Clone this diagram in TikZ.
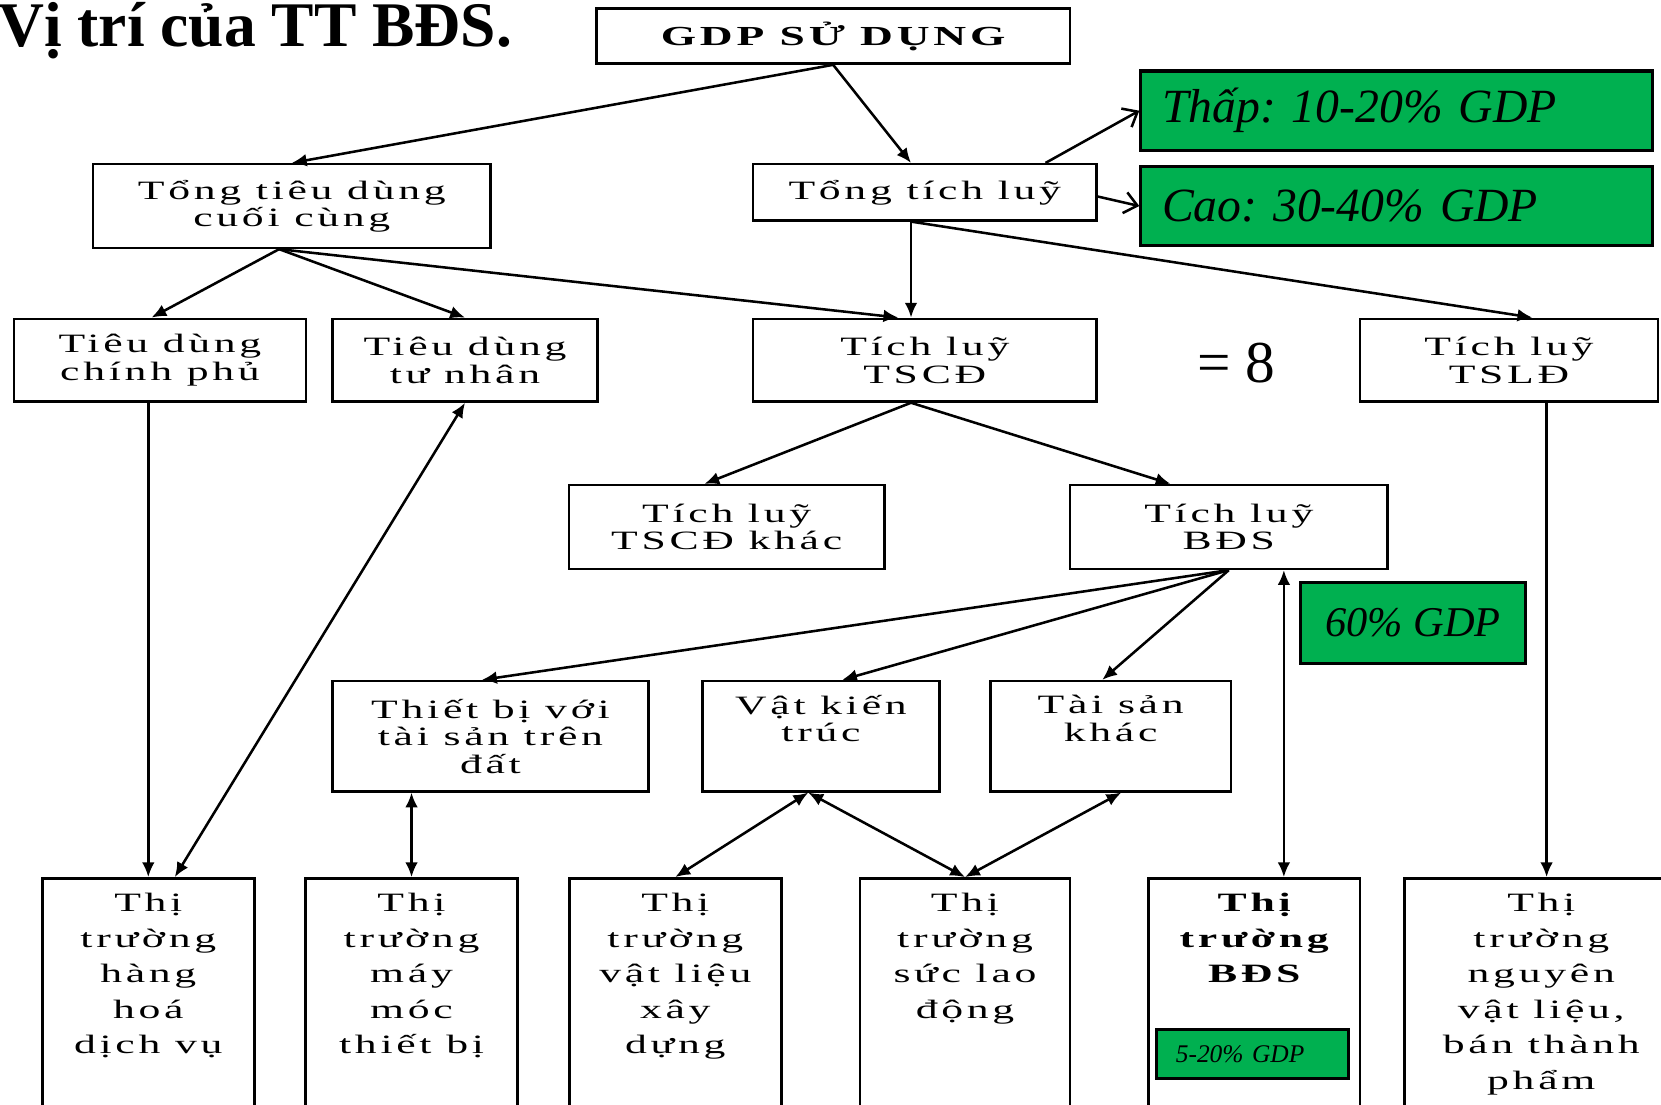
\documentclass[tikz,border=0pt]{standalone}
\usepackage{fontspec}
\setmainfont{Liberation Serif}
\newfontfamily\boxfont[FakeStretch=1.65,LetterSpace=14]{Liberation Serif}
\usetikzlibrary{arrows.meta}
\definecolor{gdpgreen}{RGB}{0,176,80}
\newcommand{\mkbox}[2][96pt]{\parbox[t][118pt][t]{#1}{\centering #2}}
\frenchspacing

\begin{document}
\begin{tikzpicture}[x=0.5pt, y=-0.5pt,
  box/.style={draw, line width=1.2pt, inner sep=0pt, align=center,
    font=\boxfont\fontsize{12.5}{13}\selectfont},
  mkt/.style={draw, line width=1.2pt, anchor=north, inner xsep=2pt, inner ysep=7pt,
    font=\boxfont\fontsize{12.5}{16.8}\selectfont},
  greenbox/.style={draw, fill=gdpgreen, line width=1.5pt, inner sep=0pt},
  arr/.style={line width=1.2pt, -{Latex[length=7pt,width=6pt]}},
  dblarr/.style={line width=1.2pt, {Latex[length=7pt,width=6pt]}-{Latex[length=7pt,width=6pt]}},
  barb/.style={line width=1.2pt, -{Straight Barb[length=6pt,width=10pt]}}]
  \useasboundingbox (0,0) rectangle (1568,1043);
  \clip (0,0) rectangle (1568,1043);
  % Title
  \node[anchor=base west, inner sep=0pt, font=\bfseries\fontsize{30}{30}\selectfont]
    (title) at (-2,44) {Vị trí của TT BĐS.};
  % Top levels
  \node[box, minimum width=223.5pt, minimum height=26pt,
    font=\boxfont\bfseries\fontsize{13}{13}\selectfont] (gdp) at (786.5,34) {GDP SỬ DỤNG};
  \node[box, minimum width=187.5pt, minimum height=39.5pt] (ttd) at (275.5,194.5) {Tổng tiêu dùng\\cuối cùng};
  \node[box, minimum width=162pt, minimum height=26.5pt] (ttl) at (873,181.5) {Tổng tích luỹ};
  % Green notes
  \node[greenbox, minimum width=241.5pt, minimum height=37.5pt, text width=221.5pt,
    font=\itshape\fontsize{22.5}{24}\selectfont] (thap) at (1318.5,104.5) {Thấp: 10-20\% GDP};
  \node[greenbox, minimum width=241.5pt, minimum height=37.5pt, text width=221.5pt,
    font=\itshape\fontsize{22.5}{24}\selectfont] (cao) at (1318.5,194.5) {Cao: 30-40\% GDP};
  % Third row
  \node[box, minimum width=138pt, minimum height=39pt] (tdcp) at (151,340) {Tiêu dùng\\chính phủ};
  \node[box, minimum width=125pt, minimum height=39pt] (tdtn) at (439,340) {Tiêu dùng\\tư nhân};
  \node[box, minimum width=162pt, minimum height=39pt] (tscd) at (873,340) {Tích luỹ\\TSCĐ};
  \node[inner sep=0pt, font=\fontsize{28}{28}\selectfont] (eq) at (1167,343) {= 8};
  \node[box, minimum width=140.5pt, minimum height=39pt] (tsld) at (1424.5,340) {Tích luỹ\\TSLĐ};
  % Fourth row
  \node[box, minimum width=149pt, minimum height=39.5pt] (tscdk) at (686,497.5) {Tích luỹ\\TSCĐ khác};
  \node[box, minimum width=150pt, minimum height=39.5pt] (bds) at (1160,497.5) {Tích luỹ\\BĐS};
  \node[greenbox, minimum width=106pt, minimum height=38pt,
    font=\itshape\fontsize{20}{20}\selectfont] (g60) at (1334,588) {60\% GDP};
  % Fifth row
  \node[box, minimum width=149pt, minimum height=52pt] (tbi) at (463,695) {Thiết bị với\\tài sản trên\\đất};
  \node[box, minimum width=112pt, minimum height=52pt] (vkt) at (775,695) {Vật kiến\\trúc\\\strut};
  \node[box, minimum width=113.5pt, minimum height=52pt] (tsk) at (1048.5,695) {Tài sản\\khác\\\strut};
  % Markets
  \node[mkt] (m1) at (140,828) {\mkbox{Thị\\trường\\hàng\\hoá\\dịch vụ}};
  \node[mkt] (m2) at (388.5,828) {\mkbox{Thị\\trường\\máy\\móc\\thiết bị}};
  \node[mkt] (m3) at (637.5,828) {\mkbox{Thị\\trường\\vật liệu\\xây\\dựng}};
  \node[mkt] (m4) at (911,828) {\mkbox[95pt]{Thị\\trường\\sức lao\\động}};
  \node[mkt] (m5) at (1184,828) {\mkbox{\bfseries Thị\\trường\\BĐS}};
  \node[mkt] (m6) at (1455,828) {\mkbox[125pt]{Thị\\trường\\nguyên\\vật liệu,\\bán thành\\phẩm}};
  \node[greenbox, minimum width=90.5pt, minimum height=23pt, text width=72.5pt,
    font=\itshape\fontsize{12}{12}\selectfont] (g520) at (1182.5,995) {5-20\% GDP};
  % Connectors
  \coordinate (ttdS) at ([xshift=-6pt]ttd.south);
  \coordinate (ttlS) at ([xshift=-6.5pt]ttl.south);
  \coordinate (tscdS) at ([xshift=-6.5pt]tscd.south);
  \coordinate (bdsR) at ([xshift=26pt]bds.south);
  \coordinate (vktS) at ([xshift=-6pt]vkt.south);
  \coordinate (tsldS) at ([xshift=17.75pt]tsld.south);
  \draw[arr] (gdp.south) -- (ttd.north);
  \draw[arr] (gdp.south) -- ([xshift=-6.5pt]ttl.north);
  \draw[barb] ([xshift=57pt]ttl.north) -- (thap.west);
  \draw[barb] ([yshift=-2pt]ttl.east) -- (cao.west);
  \draw[arr] (ttdS) -- ([xshift=-4pt]tdcp.north);
  \draw[arr] (ttdS) -- (tdtn.north);
  \draw[arr] (ttdS) -- ([xshift=-12.5pt]tscd.north);
  \draw[arr] (ttlS) -- ([xshift=-6.5pt]tscd.north);
  \draw[arr] (ttlS) -- ([xshift=11pt]tsld.north);
  \draw[arr] (tscdS) -- ([xshift=-10.5pt]tscdk.north);
  \draw[arr] (tscdS) -- ([xshift=-27.5pt]bds.north);
  \draw[arr] (bds.south) -- ([xshift=-4pt]tbi.north);
  \draw[arr] (bds.south) -- ([xshift=10pt]vkt.north);
  \draw[arr] (bds.south) -- ([xshift=-4pt]tsk.north);
  \draw[dblarr] (bdsR) -- (bdsR |- m5.north);
  \draw[arr] (m1.north |- tdcp.south) -- (m1.north);
  \draw[dblarr] ([xshift=12.5pt]m1.north) -- (tdtn.south);
  \draw[dblarr] (m2.north |- tbi.south) -- (m2.north);
  \draw[dblarr] (vktS) -- (m3.north);
  \draw[dblarr] (vktS) -- (m4.north);
  \draw[dblarr] ([xshift=5pt]tsk.south) -- (m4.north);
  \draw[arr] (tsldS) -- (tsldS |- m6.north);
\end{tikzpicture}
\end{document}
